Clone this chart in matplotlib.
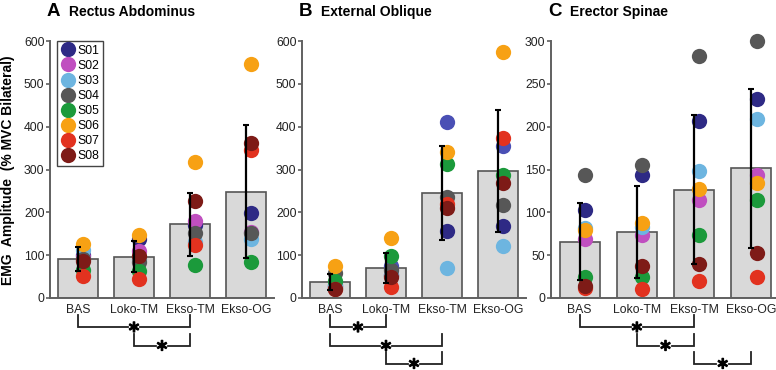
import matplotlib
matplotlib.use('Agg')
import matplotlib.pyplot as plt
import matplotlib.patheffects as pe
from matplotlib.lines import Line2D
from matplotlib.transforms import blended_transform_factory
import numpy as np

plt.rcParams['font.family'] = ['Liberation Sans', 'DejaVu Sans']

# ---------------- data ----------------
conditions = ['BAS', 'Loko-TM', 'Ekso-TM', 'Ekso-OG']
subjects = ['S01', 'S02', 'S03', 'S04', 'S05', 'S06', 'S07', 'S08']
subject_colors = ['#2E2A85', '#C04FC0', '#6DB5E0', '#575757',
                  '#1B9A3B', '#F7A114', '#E2321F', '#7E1B17']

# Panel A: Rectus Abdominus (values per subject S01..S08)
ra_bas = [100, 95, 112, 90, 65, 126, 52, 86]
ra_loko = [138, 110, 90, 85, 64, 146, 44, 98]
ra_eksotm = [170, 180, 130, 151, 77, 318, 124, 226]
ra_eksoog = [199, 155, 138, 151, 85, 546, 345, 363]
ra_sd = [28, 36, 74, 155]
ra_sig = [(0, 2), (1, 2)]

# Panel B: External Oblique
eo_bas = [25, 30, 27, 58, 40, 75, 20, 22]
eo_loko = [53, 74, 53, 66, 99, 140, 25, 50]
eo_eksotm = [157, 412, 70, 235, 313, 342, 220, 210]
eo_eksoog = [169, 354, 122, 217, 286, 575, 374, 269]
eo_sd = [18.5, 36, 109, 142]
eo_sig = [(0, 1), (0, 2), (1, 2)]

# Panel C: Erector Spinae
es_bas = [102.5, 69, 82, 143, 25, 79, 12, 14]
es_loko = [144, 74, 83, 155.5, 24.5, 88, 11, 37]
es_eksotm = [207, 114, 148, 282.5, 74, 127.5, 19.5, 40]
es_eksoog = [232.7, 143, 209, 299.5, 114, 134.5, 25, 52.6]
es_sd = [44.5, 54, 87, 92.5]
es_sig = [(0, 2), (1, 2), (2, 3)]

panel_letters = ['A', 'B', 'C']
panel_titles = ['Rectus Abdominus', 'External Oblique', 'Erector Spinae']
ylabel = 'EMG  Amplitude  (% MVC Bilateral)'

# ---------------- figure ----------------
W, H = 776, 370
fig = plt.figure(figsize=(W / 100, H / 100), dpi=100)

panels = [
    dict(vals=[ra_bas, ra_loko, ra_eksotm, ra_eksoog], sd=ra_sd, sig=ra_sig,
         ylim=600, yticks=np.arange(0, 601, 100), left=50, width=224, xmax=3.5,
         colors=subject_colors),
    dict(vals=[eo_bas, eo_loko, eo_eksotm, eo_eksoog], sd=eo_sd, sig=eo_sig,
         ylim=600, yticks=np.arange(0, 601, 100), left=302, width=224, xmax=3.5,
         colors=subject_colors[:1] + ['#4A50B5'] + subject_colors[2:]),
    dict(vals=[es_bas, es_loko, es_eksotm, es_eksoog], sd=es_sd, sig=es_sig,
         ylim=300, yticks=np.arange(0, 301, 50), left=551, width=225, xmax=3.43,
         colors=subject_colors),
]

ax_bottom_px, ax_top_px = 298, 41
spine_col = '#606060'
text_col = '#222222'
bar_w = 0.7
pt_off = 0.09

axes = []
for i, p in enumerate(panels):
    ax = fig.add_axes([p['left'] / W, 1 - ax_bottom_px / H,
                       p['width'] / W, (ax_bottom_px - ax_top_px) / H])
    axes.append(ax)
    x = np.arange(len(conditions))
    vals = np.array(p['vals'], dtype=float)  # conditions x subjects
    means = vals.mean(axis=1)
    ax.bar(x, means, width=bar_w, color='#D9D9D9', edgecolor='#555555',
           linewidth=1.2, zorder=1)
    for s in range(len(subjects)):
        ax.plot(x + pt_off, vals[:, s], 'o', ms=11, color=p['colors'][s],
                mec='none', linestyle='none', zorder=2, clip_on=False)
    ax.errorbar(x, means, yerr=p['sd'], fmt='none', ecolor='black',
                elinewidth=1.6, capsize=2.2, capthick=1.5, zorder=3)
    ax.set_xlim(-0.5, p['xmax'])
    ax.set_ylim(0, p['ylim'])
    ax.set_yticks(p['yticks'])
    ax.set_xticks(x)
    ax.set_xticklabels(conditions)
    for sp in ['top', 'right']:
        ax.spines[sp].set_visible(False)
    for sp in ['left', 'bottom']:
        ax.spines[sp].set_color(spine_col)
        ax.spines[sp].set_linewidth(1.4)
    ax.tick_params(axis='y', length=3, width=1.2, color=spine_col, pad=1,
                   labelsize=8.8, labelcolor=text_col)
    ax.tick_params(axis='x', length=0, pad=4, labelsize=8.8, labelcolor=text_col)

    # panel title
    fig.text(p['left'] / W - 3 / W, 1 - 16 / H, panel_letters[i], fontsize=13.5,
             fontweight='bold', va='baseline', ha='left', color='black')
    fig.text(p['left'] / W + 19 / W, 1 - 16 / H, panel_titles[i], fontsize=10,
             fontweight='bold', va='baseline', ha='left', color='black')

    # significance brackets
    trans = blended_transform_factory(ax.transData, fig.transFigure)
    for lvl, (a, b) in enumerate(p['sig']):
        top_px = 315 + 18.5 * lvl
        bot_px = top_px + 12
        ytop = 1 - top_px / H
        ybot = 1 - bot_px / H
        xm = (a + b) / 2
        gap = 0.11
        fig.add_artist(Line2D([a, a, xm - gap], [ytop, ybot, ybot], transform=trans,
                              color='#222222', lw=1.3, solid_joinstyle='miter'))
        fig.add_artist(Line2D([xm + gap, b, b], [ybot, ybot, ytop], transform=trans,
                              color='#222222', lw=1.3, solid_joinstyle='miter'))
        base_px = min(bot_px + 5, 368.5)
        fig.text(xm, 1 - base_px / H, r'$\ast$', transform=trans, ha='center',
                 va='baseline', fontsize=11.5, color='black',
                 path_effects=[pe.withStroke(linewidth=1.0, foreground='black')])

# y label
fig.text(8 / W, 1 - 170 / H, ylabel, rotation=90, fontsize=10, fontweight='bold',
         ha='center', va='center', color='black')

# legend
handles = [Line2D([0], [0], marker='o', color='none', markerfacecolor=c,
                  markeredgecolor='none', markersize=11) for c in subject_colors]
leg = axes[0].legend(handles, subjects, loc='upper left',
                     bbox_to_anchor=(7 / 224, 1.0), borderaxespad=0,
                     fontsize=8.8, handlelength=1.2, handletextpad=0.15,
                     borderpad=0.3, labelspacing=0.25, fancybox=False,
                     framealpha=1, edgecolor='#444444')
leg.get_frame().set_linewidth(1.0)

fig.savefig('out.png', dpi=100)
